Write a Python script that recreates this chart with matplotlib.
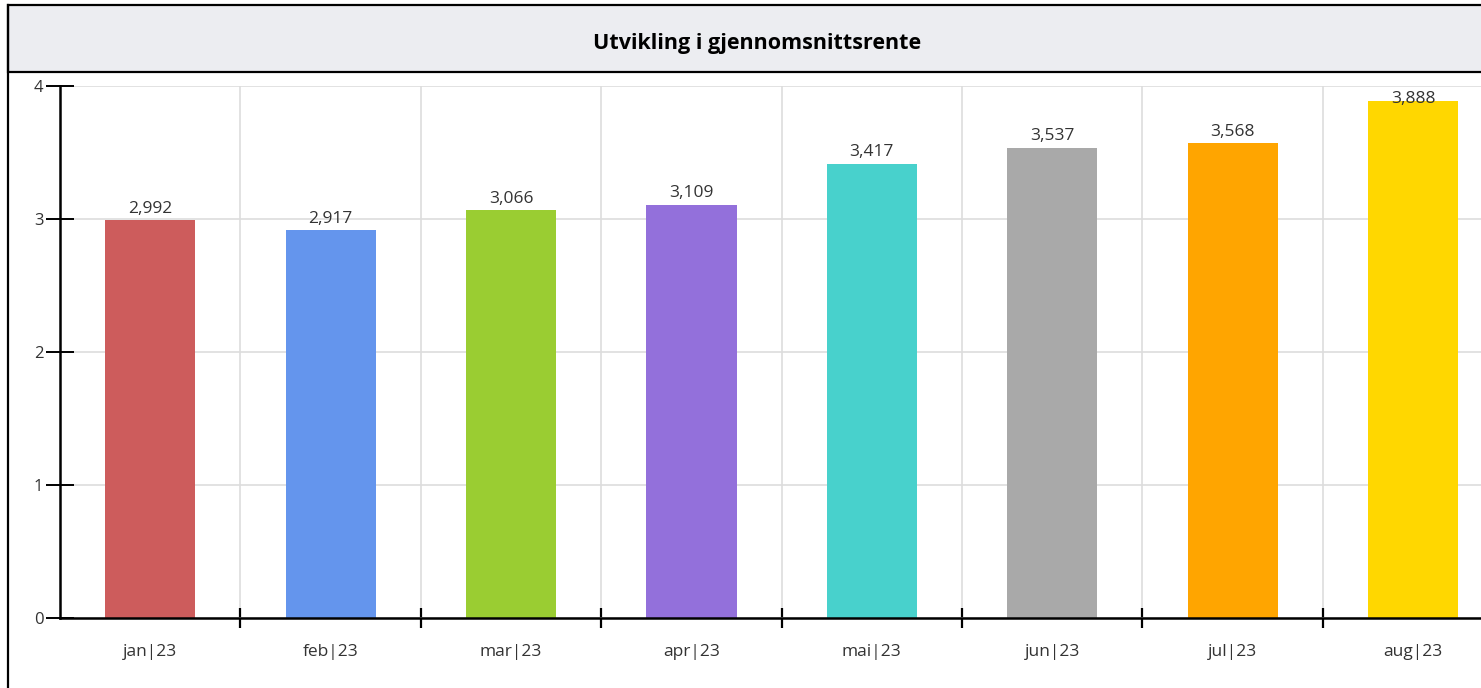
import numpy as np
import matplotlib
matplotlib.use("Agg")
import matplotlib.pyplot as plt
from matplotlib.patches import Rectangle
from matplotlib.lines import Line2D

months = ["jan|23", "feb|23", "mar|23", "apr|23", "mai|23", "jun|23", "jul|23", "aug|23"]
rates = [2.992, 2.917, 3.066, 3.109, 3.417, 3.537, 3.568, 3.888]
colors = ["#CD5C5C", "#6495ED", "#9ACD32", "#9370DB", "#48D1CC", "#A9A9A9", "#FFA500", "#FFD700"]
yticks = [0, 1, 2, 3, 4]

plt.rcParams['font.family'] = ['Open Sans', 'DejaVu Sans']

W, H = 1481, 688
fig = plt.figure(figsize=(W / 100, H / 100), dpi=100)

# title band and outer frame
fig.patches.append(Rectangle((8 / W, 1 - 72 / H), 1, 67 / H, transform=fig.transFigure,
                             facecolor="#ECEDF1", edgecolor="black", linewidth=1.6))
fig.lines.append(Line2D([8 / W, 8 / W], [0, 1 - 5 / H], transform=fig.transFigure,
                        color="black", linewidth=1.6))
fig.text(757 / W, 1 - 44 / H, "Utvikling i gjennomsnittsrente", ha="center", va="center",
         fontsize=15.5, fontweight="bold")

ax = fig.add_axes([60 / W, 70 / H, (W - 60) / W, 532 / H])
x = np.arange(len(months))
ax.bar(x, rates, width=0.5, color=colors, zorder=3)
for xi, v in zip(x, rates):
    ax.text(xi, min(v + 0.085, 3.9), f"{v:.3f}".replace(".", ","), ha="center", va="center",
            fontsize=12.5, color="#333333", zorder=4)

ax.set_yticks(yticks)
ax.set_yticklabels([str(t) for t in yticks])
ax.set_xticks(x + 0.5)
ax.set_xticklabels([])
ax.set_xticks(x, minor=True)
ax.set_xticklabels(months, minor=True)
step = 180.4
ax.set_xlim(-0.5, -0.5 + (W - 60) / step)
ax.set_ylim(0, 4)

ax.tick_params(axis="x", which="major", direction="inout", length=14, width=1.6, color="black")
ax.tick_params(axis="x", which="minor", length=0, pad=19, labelsize=12.5, labelcolor="#333333")
ax.tick_params(axis="y", direction="inout", length=20, width=1.4, color="black",
               labelsize=12, labelcolor="#333333", pad=2)

ax.grid(True, which="major", color="#DDDDDD", linewidth=1.2, zorder=0)
for s in ["top", "right"]:
    ax.spines[s].set_visible(False)
for s in ["left", "bottom"]:
    ax.spines[s].set_linewidth(1.8)
    ax.spines[s].set_zorder(5)

fig.savefig("out.png", dpi=100)
